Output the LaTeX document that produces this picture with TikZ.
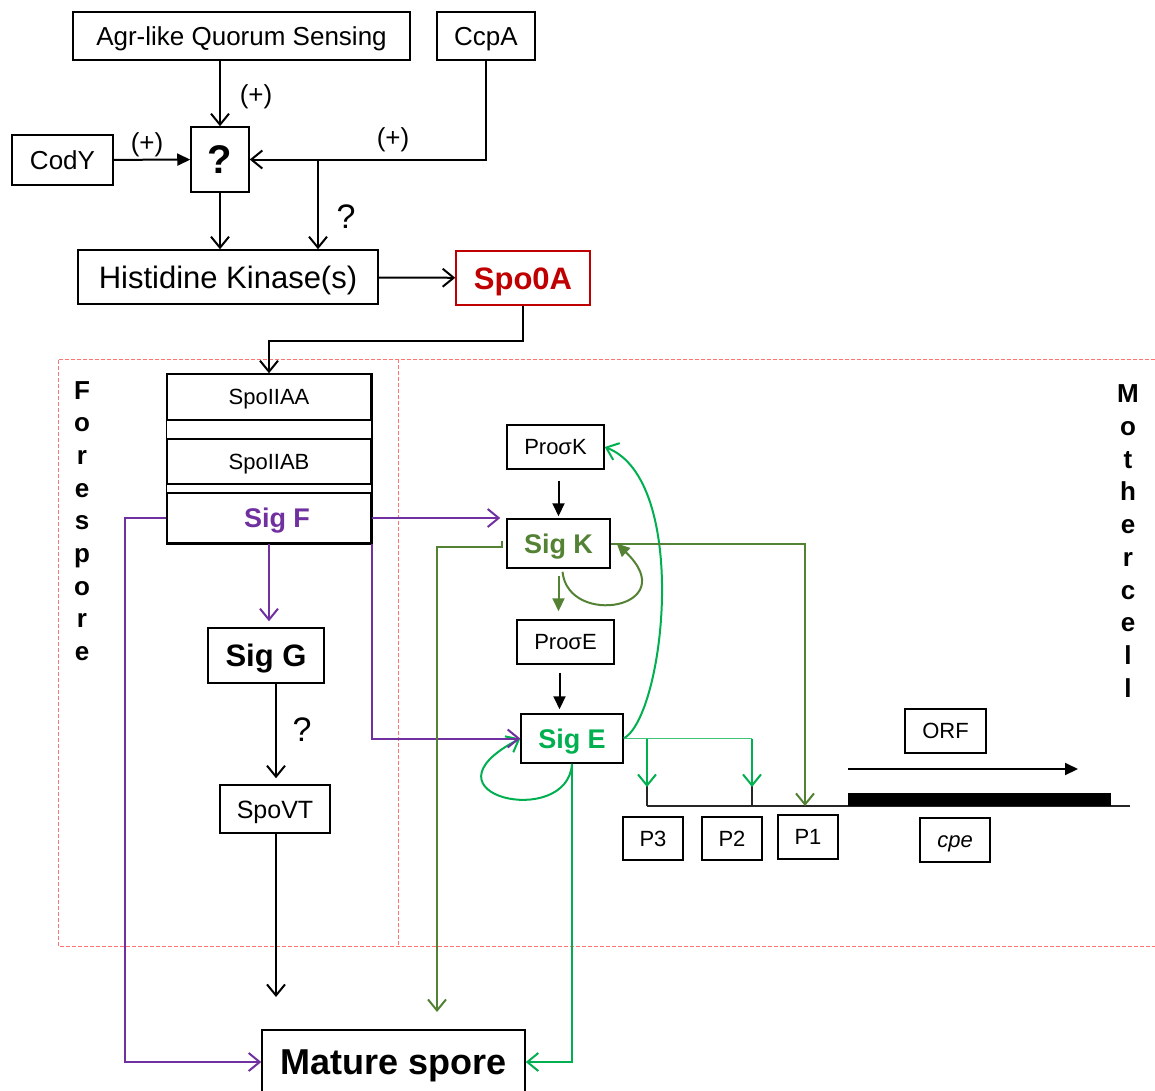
\documentclass[tikz,border=0pt]{standalone}
\usepackage{fontspec}
\setmainfont{Liberation Sans}
\usetikzlibrary{arrows.meta}
\definecolor{sigpurple}{HTML}{7030A0}
\definecolor{sigolive}{HTML}{548235}
\definecolor{siggreen}{HTML}{00B050}
\definecolor{spored}{HTML}{C00000}
\newcommand{\fsz}[1]{\fontsize{#1}{#1}\selectfont}

\begin{document}
\begin{tikzpicture}[x=1pt, y=-1pt,
    every node/.style={inner sep=0pt},
    box/.style={draw, line width=1.5pt, font=\fsz{#1}, text height=#1*0.72pt, text depth=0pt},
    box/.default=22,
    openarr/.style={-{Straight Barb[length=11pt,width=18pt]}},
    fillarr/.style={-{Triangle[length=13pt,width=12pt]}},
    link/.style={line width=2pt},
    thinlink/.style={line width=1.4pt},
    cellregion/.style={draw=red!55, line width=0.8pt, dash pattern=on 4pt off 2pt},
    sidetext/.style={align=center, font=\fontsize{26}{32.7}\selectfont\bfseries}
  ]
  \useasboundingbox (0,0) rectangle (1155,1090);

  % cell compartments
  \draw[cellregion] (1155,359) -- (58,359) -- (58,946) -- (1155,946);
  \draw[cellregion] (398,359) -- (398,946);
  \node[sidetext] (fore) at (82,521) {F\\o\\r\\e\\s\\p\\o\\r\\e};
  \node[sidetext] (mother) at (1128,541) {M\\o\\t\\h\\e\\r\\c\\e\\l\\l};

  % signalling
  \node[box=26, minimum width=337pt, minimum height=48pt] (agr) at (241.5,36) {Agr-like Quorum Sensing};
  \node[box=26, minimum width=98pt, minimum height=48pt] (ccpa) at (486,36) {CcpA};
  \node[box=26, minimum width=101pt, minimum height=50pt] (cody) at (62.5,160) {CodY};
  \node[box=40, font=\fsz{40}\bfseries, minimum width=58pt, minimum height=65pt] (qbox) at (220,159.5) {?};
  \node[box=31, minimum width=300pt, minimum height=54pt] (hk) at (228,277) {Histidine Kinase(s)};
  \node[box=31, draw=spored, text=spored, font=\fsz{31}\bfseries, minimum width=134pt, minimum height=54pt] (spo0a) at (523,278) {Spo0A};

  \draw[link, openarr] (qbox.north |- agr.south) -- (qbox.north);
  \node[font=\fsz{26}] (plusa) at (256,97) {(+)};
  \draw[link, fillarr] (cody) -- (qbox);
  \node[font=\fsz{26}] (plusb) at (147,145) {(+)};
  \draw[link, openarr] (ccpa.south) |- (qbox.east);
  \node[font=\fsz{26}] (plusc) at (393,140) {(+)};
  \coordinate (branch) at (318,159.5);
  \draw[link, openarr] (branch) -- (branch |- hk.north);
  \node[font=\fsz{34}] (qa) at (346,217) {?};
  \draw[link, openarr] (qbox.south) -- (qbox.south |- hk.north);
  \draw[link, openarr] (hk) -- (spo0a);

  % forespore
  \node[box, minimum width=204pt, minimum height=46pt] (spoiiaa) at (269,397) {SpoIIAA};
  \node[box, minimum width=204pt, minimum height=45pt] (spoiiab) at (269,461.5) {SpoIIAB};
  \node[box=27, text=sigpurple, font=\fsz{27}\bfseries, minimum width=204pt, minimum height=50pt] (sigf) at (269,518) {\hspace{16pt}Sig F};
  \draw[line width=1.5pt] (spoiiaa.north west) rectangle (sigf.south east);
  \draw[link, openarr] (spo0a.south) -- ++(0,35) -| (spoiiaa.north);

  \node[box=31, font=\fsz{31}\bfseries, minimum width=116pt, minimum height=55pt] (sigg) at (266,655.5) {Sig G};
  \node[box=25, minimum width=110pt, minimum height=48pt] (spovt) at (275,809) {SpoVT};
  \node[box=36, font=\fsz{36}\bfseries, minimum width=263pt, minimum height=64pt] (mature) at (393.5,1062) {Mature spore};
  \coordinate (vtend) at (276,997);

  \draw[link, sigpurple, openarr, shorten >=6pt] (sigf.south) -- (sigf.south |- sigg.north);
  \draw[link, openarr, shorten >=6pt] ([xshift=10pt]sigg.south) -- ([xshift=10pt]sigg.south |- spovt.north);
  \node[font=\fsz{34}] (qb) at (302,730) {?};
  \draw[link, openarr] (spovt.south -| vtend) -- (vtend);
  \draw[link, sigpurple, openarr] (sigf.west) -- ++(-41,0) |- (mature.west);

  % mother cell
  \node[box, minimum width=97pt, minimum height=44pt] (prok) at (555.5,447) {ProσK};
  \node[box=27, text=sigolive, font=\fsz{27}\bfseries, minimum width=103pt, minimum height=49pt] (sigk) at (558.5,543.5) {Sig K};
  \node[box, minimum width=97pt, minimum height=44pt] (proe) at (565.5,642) {ProσE};
  \node[box=27, text=siggreen, font=\fsz{27}\bfseries, minimum width=102pt, minimum height=49pt] (sige) at (572,738.5) {Sig E};

  \draw[link, sigpurple, openarr, shorten >=6pt] (sigf.east) -- (sigf.east -| sigk.west);

  \draw[link, fillarr, shorten <=11pt, shorten >=2pt] (sigk.north |- prok.south) -- (sigk.north);
  \draw[link, sigolive, fillarr, shorten <=7pt, shorten >=8pt] (sigk.south) -- (sigk.south |- proe.north);
  \draw[link, sigolive, fillarr] ([xshift=4pt,yshift=-3pt]sigk.south) .. controls (568,628) and (684,608) .. ([xshift=6pt]sigk.east);
  \draw[link, fillarr, shorten <=8pt, shorten >=4pt] ([xshift=-6pt]proe.south) -- ([xshift=-6pt]proe.south |- sige.north);
  \draw[link, siggreen, openarr] (sige.south) .. controls (568,830) and (412,795) .. (sige.west);
  \draw[link, sigpurple, openarr] (sigf.south east) |- (sige.west);
  \draw[link, siggreen, openarr] (sige.east) .. controls (665,715) and (690,480) .. (prok.east);

  % cpe locus
  \node[box, minimum width=60pt, minimum height=43pt] (p3) at (653,838.5) {P3};
  \node[box, minimum width=60pt, minimum height=43pt] (p2) at (732,838.5) {P2};
  \node[box, minimum width=60pt, minimum height=44pt] (p1) at (808,837) {P1};
  \node[box, minimum width=81pt, minimum height=44pt] (orf) at (945.5,731) {ORF};
  \node[box, font=\fsz{22}\itshape, minimum width=70pt, minimum height=44pt] (cpe) at (955,840) {cpe};
  \coordinate (p3top) at (647,806);
  \coordinate (p2top) at (752,806);
  \coordinate (p1top) at (805,806);
  \coordinate (orfa) at (848,769);
  \coordinate (orfb) at (1078,769);

  \draw[thinlink, black!85] (p3top) -- (1130,806);
  \fill (848,793) rectangle (1111,806);
  \draw[link, fillarr] (orfa) -- (orfb);
  \draw[thinlink, black!85] (p3top) -- ++(0,-20);
  \draw[thinlink, black!85] (p2top) -- ++(0,-20);
  \draw[thinlink, siggreen!75] (sige.east) -- (sige.east -| p2top);
  \draw[link, siggreen, openarr] (sige.east -| p3top) -- ([yshift=19pt]p3top);
  \draw[link, siggreen, openarr] (sige.east -| p2top) -- ([yshift=19pt]p2top);
  \draw[link, sigolive, openarr] (sigk.east) -| (p1top);

  % to mature spore
  \draw[link, sigolive, openarr] ([xshift=-4pt,yshift=3pt]sigk.west) -- ++(0,6) -| (437,1012);
  \draw[link, siggreen, openarr] (sige.south) |- (mature.east);
\end{tikzpicture}
\end{document}
